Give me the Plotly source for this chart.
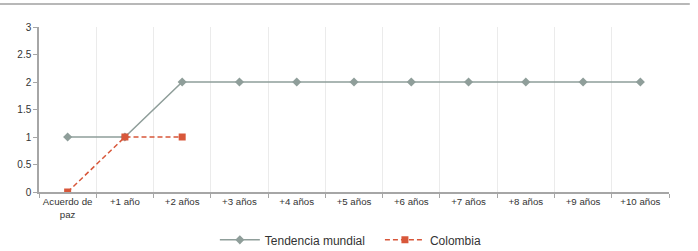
import plotly.graph_objects as go

categories = ["Acuerdo de<br>paz", "+1 año", "+2 años", "+3 años", "+4 años", "+5 años",
              "+6 años", "+7 años", "+8 años", "+9 años", "+10 años"]
tendencia = [1, 1, 2, 2, 2, 2, 2, 2, 2, 2, 2]
colombia_cats = categories[:3]
colombia = [0, 1, 1]

fig = go.Figure()
fig.add_trace(go.Scatter(
    x=categories, y=tendencia, name="Tendencia mundial\u00a0\u00a0\u00a0", mode="lines+markers",
    line=dict(color="#8f9e9a", width=1.5),
    marker=dict(symbol="diamond", size=7, color="#8f9e9a"),
))
fig.add_trace(go.Scatter(
    x=colombia_cats, y=colombia, name="Colombia", mode="lines+markers",
    line=dict(color="#d8573a", width=1.5, dash="5px,3px"),
    marker=dict(symbol="square", size=7, color="#d8573a"),
))

fig.update_layout(
    width=698, height=251,
    margin=dict(l=39, r=29, t=27, b=59, autoexpand=False),
    paper_bgcolor="white", plot_bgcolor="white",
    font=dict(family="Liberation Sans, Arial, sans-serif", size=10, color="#333333"),
    showlegend=True,
    legend=dict(orientation="h", x=0.495, xanchor="center", y=-0.29, yanchor="middle",
                font=dict(size=12, color="#333333"), itemwidth=40),
    xaxis=dict(type="category", tickson="boundaries", showgrid=True, gridcolor="#ebebeb",
               gridwidth=1, showline=True, linecolor="#a6a6a6", linewidth=1.5,
               ticks="outside", ticklen=4, tickcolor="#a6a6a6", tickangle=0, automargin=False,
               range=[-0.5, 10.5], tickfont=dict(size=9.7, color="#333333")),
    yaxis=dict(range=[0, 3], dtick=0.5, showgrid=False, showline=True, linecolor="#a6a6a6",
               linewidth=1.5, ticks="outside", ticklen=4, tickcolor="#a6a6a6", automargin=False,
               zeroline=False, tickfont=dict(size=10, color="#333333")),
    shapes=[dict(type="line", xref="paper", yref="paper", x0=-0.062, x1=1.033,
                 y0=1.139, y1=1.139, line=dict(color="#a0a0a0", width=1.5))],
)

fig.write_html("out.html", config={"displayModeBar": False},
               post_script="document.body.style.margin='0';")
